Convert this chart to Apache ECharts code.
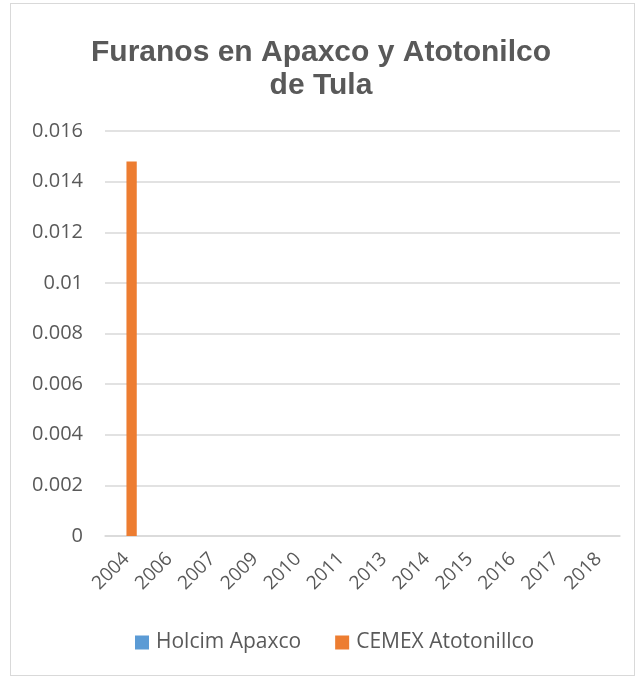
<!DOCTYPE html>
<html>
<head>
<meta charset="utf-8">
<script src="https://cdn.jsdelivr.net/npm/echarts@6/dist/echarts.min.js"></script>
<style>
  html, body { margin: 0; padding: 0; background: #fff; }
  #frame { position: absolute; left: 10px; top: 3px; width: 625px; height: 673px; border: 1px solid #d9d9d9; box-sizing: border-box; }
  #chart { width: 642px; height: 680px; position: absolute; left: 0; top: 0; }
</style>
</head>
<body>
<div id="frame"></div>
<div id="chart"></div>
<script>
const years = ['2004', '2006', '2007', '2009', '2010', '2011', '2013', '2014', '2015', '2016', '2017', '2018']
const holcimApaxco = [null, null, null, null, null, null, null, null, null, null, null, null]
const cemexAtotonilco = [0.0148, null, null, null, null, null, null, null, null, null, null, null]

const txt = '#595959'
const titleFont = '"Liberation Sans", Arial, sans-serif'
const font = '"Open Sans", sans-serif'

const chart = echarts.init(document.getElementById('chart'))
chart.setOption({
  animation: false,
  title: {
    text: 'Furanos en Apaxco y Atotonilco\nde Tula',
    left: 'center',
    top: 31,
    textStyle: { color: txt, fontSize: 30, fontWeight: 'bold', fontFamily: titleFont, lineHeight: 33 }
  },
  grid: { left: 105, right: 22, top: 131, bottom: 144, containLabel: false },
  legend: {
    bottom: 22,
    left: 130,
    itemWidth: 14,
    itemHeight: 14,
    itemGap: 34,
    icon: 'rect',
    textStyle: { color: txt, fontSize: 21, fontFamily: font, padding: [0, 0, 0, 2] },
    data: ['Holcim Apaxco', 'CEMEX Atotonillco']
  },
  xAxis: {
    type: 'category',
    data: years,
    axisLine: { lineStyle: { color: '#d9d9d9', width: 1.5 } },
    axisTick: { show: false },
    axisLabel: { color: txt, fontSize: 19, fontFamily: font, rotate: 45, margin: 20, interval: 0 }
  },
  yAxis: {
    type: 'value',
    min: 0,
    max: 0.016,
    interval: 0.002,
    axisLine: { show: false },
    axisTick: { show: false },
    splitLine: { lineStyle: { color: '#d9d9d9', width: 1.5 } },
    axisLabel: { color: txt, fontSize: 20, fontFamily: font, margin: 22 }
  },
  series: [
    {
      name: 'Holcim Apaxco',
      type: 'bar',
      data: holcimApaxco,
      itemStyle: { color: '#5b9bd5' },
      barGap: '0%',
      barCategoryGap: '52%'
    },
    {
      name: 'CEMEX Atotonillco',
      type: 'bar',
      data: cemexAtotonilco,
      itemStyle: { color: '#ed7d31' },
      barGap: '0%',
      barCategoryGap: '52%'
    }
  ]
})
</script>
</body>
</html>
